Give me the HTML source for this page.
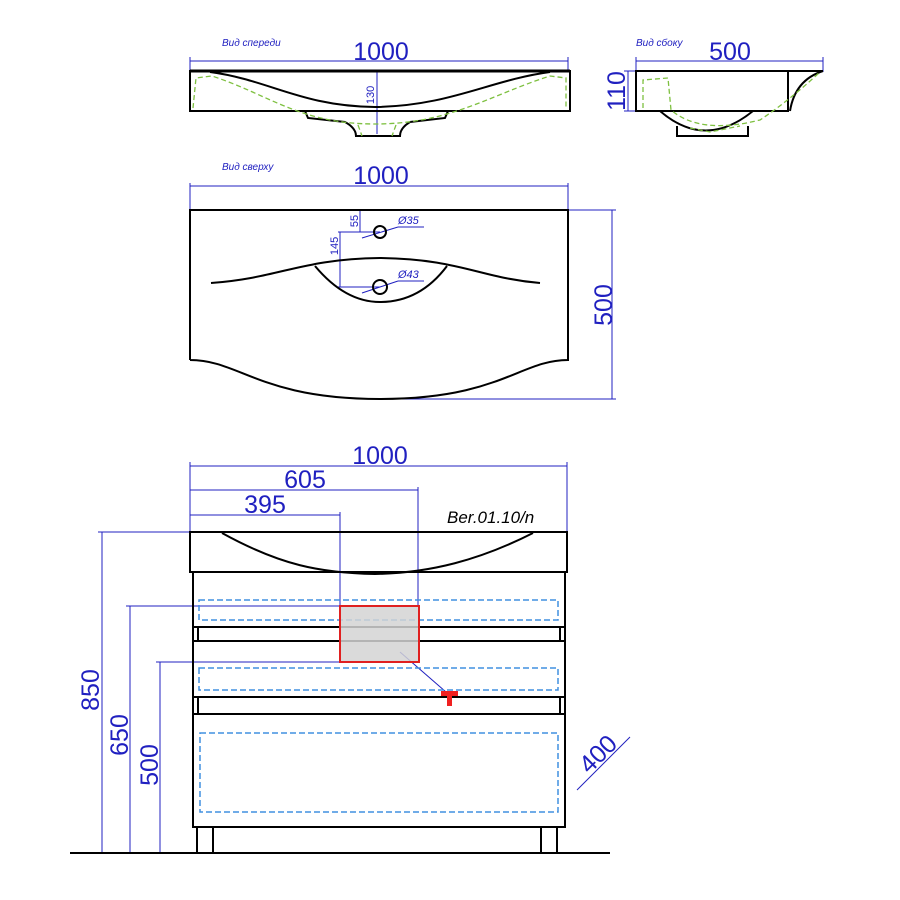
<!DOCTYPE html>
<html><head><meta charset="utf-8"><style>html,body{margin:0;padding:0;background:#fff}svg{display:block}</style></head><body>
<svg width="900" height="900" viewBox="0 0 900 900" xmlns="http://www.w3.org/2000/svg" font-family="Liberation Sans, sans-serif">
<rect width="900" height="900" fill="#fff"/>
<g fill="none" stroke="#2020c0" stroke-width="1">
<line x1="190" y1="61" x2="568" y2="61"/><line x1="190" y1="57" x2="190" y2="72"/><line x1="568" y1="57" x2="568" y2="72"/>
<line x1="377" y1="72" x2="377" y2="134"/>
<line x1="636" y1="61" x2="823" y2="61"/><line x1="636" y1="57" x2="636" y2="72"/><line x1="823" y1="57" x2="823" y2="72"/>
<line x1="628" y1="71" x2="628" y2="111"/><line x1="624" y1="71" x2="637" y2="71"/><line x1="624" y1="111" x2="637" y2="111"/>
<line x1="190" y1="186" x2="568" y2="186"/><line x1="190" y1="183" x2="190" y2="210"/><line x1="568" y1="183" x2="568" y2="210"/>
<line x1="612" y1="210" x2="612" y2="399"/><line x1="568" y1="210" x2="616" y2="210"/><line x1="380" y1="399" x2="616" y2="399"/>
<line x1="360" y1="210" x2="360" y2="232"/><line x1="358" y1="210" x2="380" y2="210"/>
<line x1="340" y1="232" x2="340" y2="287"/><line x1="338" y1="232" x2="380" y2="232"/><line x1="338" y1="287" x2="380" y2="287"/>
<line x1="362" y1="238" x2="398" y2="227"/><line x1="398" y1="227" x2="424" y2="227"/>
<line x1="362" y1="293" x2="398" y2="281"/><line x1="398" y1="281" x2="424" y2="281"/>
<line x1="190" y1="466" x2="567" y2="466"/><line x1="190" y1="462" x2="190" y2="532"/><line x1="567" y1="462" x2="567" y2="532"/>
<line x1="190" y1="490" x2="418" y2="490"/><line x1="418" y1="487" x2="418" y2="606"/>
<line x1="190" y1="515" x2="340" y2="515"/><line x1="340" y1="512" x2="340" y2="606"/>
<line x1="102" y1="532" x2="102" y2="853"/><line x1="98" y1="532" x2="190" y2="532"/>
<line x1="130" y1="606" x2="130" y2="853"/><line x1="126" y1="606" x2="340" y2="606"/>
<line x1="160" y1="662" x2="160" y2="853"/><line x1="156" y1="662" x2="340" y2="662"/>
<line x1="400" y1="652" x2="446" y2="692"/>
<line x1="577" y1="790" x2="630" y2="737"/>
</g>
<g fill="#2020c0" font-style="italic">
<text x="222" y="46" font-size="10">Вид спереди</text>
<text x="636" y="46" font-size="10">Вид сбоку</text>
<text x="222" y="170" font-size="10">Вид сверху</text>
<text x="398" y="224" font-size="11">Ø35</text>
<text x="398" y="278" font-size="11">Ø43</text>
</g>
<g fill="#2020c0" font-size="25" text-anchor="middle">
<text x="381" y="60">1000</text>
<text x="730" y="60">500</text>
<text x="381" y="184">1000</text>
<text x="380" y="464">1000</text>
<text x="305" y="488">605</text>
<text x="265" y="513">395</text>
<text transform="translate(625,91) rotate(-90)">110</text>
<text transform="translate(612,305) rotate(-90)">500</text>
<text transform="translate(99,690) rotate(-90)">850</text>
<text transform="translate(128,735) rotate(-90)">650</text>
<text transform="translate(158,765) rotate(-90)">500</text>
<text transform="translate(604,760) rotate(-45)">400</text>
</g>
<g fill="#2020c0" font-size="11" text-anchor="middle">
<text transform="translate(374,95) rotate(-90)">130</text>
<text transform="translate(358,221) rotate(-90)">55</text>
<text transform="translate(338,246) rotate(-90)">145</text>
</g>
<g fill="none" stroke="#000" stroke-width="2">
<rect x="190" y="71" width="380" height="40"/>
<line x1="190" y1="71" x2="570" y2="71" stroke-width="3"/>
<path d="M210,72 C270,80 300,106 375,107 C450,106 490,80 550,72"/>
<path d="M305,111 L308,118 L345,122 Q356,128 356,136 L400,136 Q400,128 410,122 L445,118 L448,111"/>
</g>
<g fill="none" stroke="#7ec040" stroke-width="1.3" stroke-dasharray="5,3">
<path d="M193,108 L196,78 L212,76 C270,95 300,124 375,124 C450,124 490,95 550,76 L566,78 L566,108"/>
<path d="M358,125 L362,136 M396,125 L392,136"/>
</g>
<g fill="none" stroke="#000" stroke-width="2">
<rect x="636" y="71" width="152" height="40"/>
<line x1="788" y1="71" x2="823" y2="71"/>
<path d="M823,71 Q795,80 790,111"/>
<path d="M660,111 Q705,150 753,111"/>
<path d="M677,126 L677,136 L748,136 L748,126"/>
</g>
<g fill="none" stroke="#7ec040" stroke-width="1.3" stroke-dasharray="5,3">
<path d="M643,108 L643,80 L668,78 L671,110 Q700,135 760,120 Q790,100 820,72"/>
<path d="M690,128 L710,132 L740,126"/>
</g>
<g fill="none" stroke="#000" stroke-width="2">
<path d="M190,360 L190,210 L568,210 L568,360 C520,360 500,399 380,399 C260,399 240,360 190,360"/>
<path d="M211,283 C280,278 300,259 380,258 C460,259 480,278 540,283"/>
<path d="M315,266 Q345,302 380,302 Q420,302 447,266"/>
<circle cx="380" cy="232" r="6"/>
<circle cx="380" cy="287" r="7"/>
</g>
<g fill="none" stroke="#000" stroke-width="2">
<rect x="190" y="532" width="377" height="40"/>
<path d="M222,533 C280,565 320,573 375,574 C430,573 480,560 533,533"/>
<rect x="193" y="572" width="372" height="255"/>
<line x1="193" y1="627" x2="565" y2="627"/><line x1="193" y1="641" x2="565" y2="641"/>
<line x1="193" y1="697" x2="565" y2="697"/><line x1="193" y1="714" x2="565" y2="714"/>
<line x1="198" y1="627" x2="198" y2="641"/><line x1="560" y1="627" x2="560" y2="641"/>
<line x1="198" y1="697" x2="198" y2="714"/><line x1="560" y1="697" x2="560" y2="714"/>
<rect x="197" y="827" width="16" height="26"/><rect x="541" y="827" width="16" height="26"/>
<line x1="70" y1="853" x2="610" y2="853"/>
</g>
<g fill="none" stroke="#4090e0" stroke-width="1.5" stroke-dasharray="6,3">
<rect x="199" y="600" width="359" height="20"/>
<rect x="199" y="668" width="359" height="22"/>
<rect x="200" y="733" width="358" height="79"/>
</g>
<rect x="340" y="606" width="79" height="56" fill="#d3d3d3" fill-opacity="0.85" stroke="#e02020" stroke-width="2"/>
<path d="M441,691 h17 v5 h-6 v10 h-5 v-10 h-6 z" fill="#f02020"/>
<text x="447" y="523" font-size="17" font-style="italic" fill="#000">Ber.01.10/n</text>
</svg>
</body></html>
